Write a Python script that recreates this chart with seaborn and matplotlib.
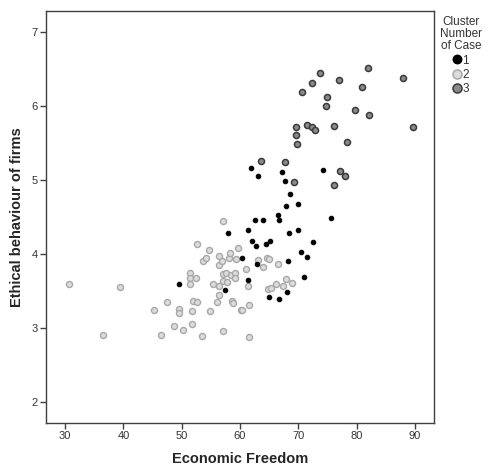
import matplotlib
matplotlib.use("Agg")
import matplotlib.pyplot as plt
import seaborn as sns
import pandas as pd
from matplotlib.lines import Line2D

# Cluster 1
c1_x = [61.9, 63.1, 67.2, 67.8, 74.3, 68.5, 67.9, 70.0, 66.5, 66.7, 62.6, 64.0, 75.6,
        61.4, 58.0, 69.9, 68.4, 62.0, 62.8, 65.1, 64.5, 72.5, 70.5, 71.5, 60.3, 68.2,
        63.0, 71.0, 61.3, 49.6, 57.4, 68.0, 65.0, 66.7]
c1_y = [5.16, 5.05, 5.11, 4.98, 5.13, 4.81, 4.65, 4.68, 4.53, 4.46, 4.46, 4.46, 4.48,
        4.33, 4.28, 4.33, 4.28, 4.17, 4.11, 4.18, 4.13, 4.16, 4.03, 3.96, 3.94, 3.90,
        3.86, 3.69, 3.65, 3.59, 3.51, 3.49, 3.42, 3.40]
# Cluster 2
c2_x = [30.7, 39.4, 36.5, 45.3, 46.4, 47.5, 48.7, 49.5, 49.5, 50.2, 51.5, 51.5, 51.5,
        52.5, 51.9, 52.6, 51.8, 51.8, 52.7, 53.5, 53.7, 54.2, 54.6, 54.9, 55.3, 56.0,
        56.4, 56.4, 56.4, 56.4, 56.9, 57.0, 57.0, 57.1, 57.1, 57.6, 57.7, 58.1, 58.2,
        58.5, 58.6, 58.8, 59.2, 59.2, 59.3, 59.7, 60.1, 60.3, 61.0, 61.4, 61.5, 61.6,
        63.1, 63.9, 64.6, 65.0, 64.8, 65.3, 66.2, 66.6, 67.3, 67.9, 69.0]
c2_y = [3.59, 3.56, 2.91, 3.24, 2.91, 3.35, 3.03, 3.26, 3.20, 2.98, 3.74, 3.68, 3.60,
        3.68, 3.36, 3.35, 3.23, 3.06, 4.14, 2.89, 3.90, 3.94, 4.05, 3.23, 3.60, 3.35,
        3.85, 3.57, 3.45, 3.98, 3.91, 3.73, 3.64, 4.45, 2.96, 3.75, 3.62, 3.94, 4.01,
        3.72, 3.37, 3.34, 3.74, 3.68, 3.93, 4.08, 3.25, 3.24, 3.80, 3.57, 2.88, 3.31,
        3.92, 3.82, 3.94, 3.93, 3.53, 3.54, 3.60, 3.86, 3.57, 3.66, 3.61]
# Cluster 3
c3_x = [82.0, 87.9, 73.7, 72.3, 77.0, 80.9, 70.6, 74.9, 74.7, 79.7, 82.1, 69.6, 71.5,
        72.3, 72.8, 76.2, 89.7, 69.6, 69.7, 78.4, 63.6, 67.7, 69.3, 77.2, 78.0, 76.1]
c3_y = [6.51, 6.37, 6.45, 6.31, 6.35, 6.26, 6.19, 6.12, 6.00, 5.94, 5.87, 5.71, 5.74,
        5.71, 5.67, 5.73, 5.72, 5.60, 5.49, 5.51, 5.25, 5.24, 4.97, 5.12, 5.05, 4.93]

clusters = ["1", "2", "3"]
x_ticks = [30, 40, 50, 60, 70, 80, 90]
y_ticks = [2, 3, 4, 5, 6, 7]

df = pd.concat([
    pd.DataFrame({"x": c1_x, "y": c1_y, "cluster": "1"}),
    pd.DataFrame({"x": c2_x, "y": c2_y, "cluster": "2"}),
    pd.DataFrame({"x": c3_x, "y": c3_y, "cluster": "3"}),
])

sns.set_style("white")
plt.rcParams["font.family"] = ["Liberation Sans", "DejaVu Sans"]

styles = {
    "2": dict(fc="#dcdcdc", ec="#a8a8a8", s=19, lw=1.0),
    "1": dict(fc="#000000", ec="#000000", s=11, lw=0.7),
    "3": dict(fc="#8a8a8a", ec="#3a3a3a", s=19, lw=1.1),
}

fig = plt.figure(figsize=(4.88, 4.68), dpi=100)
ax = fig.add_axes([46 / 488, 1 - 423 / 468, 388 / 488, 412 / 468])

for c in ["2", "1", "3"]:
    st = styles[c]
    sns.scatterplot(data=df[df.cluster == c], x="x", y="y", ax=ax,
                    color=st["fc"], edgecolor=st["ec"], s=st["s"],
                    linewidth=st["lw"], legend=False, zorder=3)

ax.set_xlim(26.7, 93.3)
ax.set_ylim(1.72, 7.28)
ax.set_xticks(x_ticks)
ax.set_yticks(y_ticks)
ax.tick_params(axis="both", direction="out", length=4, width=1, color="#404040",
               labelsize=8, labelcolor="#333333", pad=2, bottom=True, left=True)
for sp in ax.spines.values():
    sp.set_color("#404040")
    sp.set_linewidth(1)

ax.set_xlabel("Economic Freedom", fontsize=10.5, fontweight="bold", labelpad=8)
ax.set_ylabel("Ethical behaviour of firms", fontsize=10.5, fontweight="bold", labelpad=5)

handles = [Line2D([0], [0], marker="o", linestyle="none",
                  markerfacecolor=styles[c]["fc"], markeredgecolor=styles[c]["ec"],
                  markersize=6.5 if c != "1" else 6, markeredgewidth=1.1)
           for c in clusters]
leg = fig.legend(handles, clusters, title="Cluster\nNumber\nof Case",
                 loc="upper center", bbox_to_anchor=(461 / 488, 1 - 8 / 468),
                 frameon=False, fontsize=8.5, title_fontsize=8.5,
                 handlelength=0.6, handletextpad=0.15, labelspacing=0.2,
                 borderpad=0.2)
leg.get_title().set_multialignment("center")
leg.get_title().set_color("#333333")
leg.get_title().set_linespacing(1.0)
for t in leg.get_texts():
    t.set_color("#333333")

fig.savefig("out.png", dpi=100)
